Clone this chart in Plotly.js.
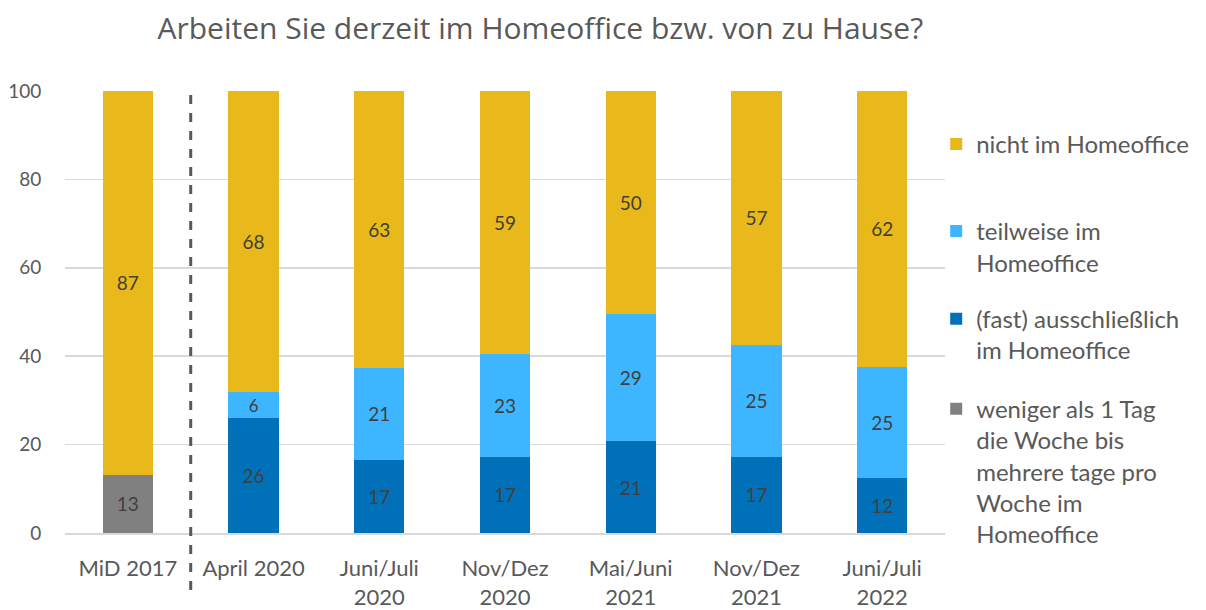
<!DOCTYPE html>
<html><head><meta charset="utf-8">
<script src="https://cdn.plot.ly/plotly-3.0.1.min.js"></script>
<style>body{margin:0;background:#fff}#c{width:1206px;height:610px}</style>
</head><body><div id="c"></div>
<script>
const categories = ["MiD 2017","April 2020","Juni/Juli<br>2020","Nov/Dez<br>2020","Mai/Juni<br>2021","Nov/Dez<br>2021","Juni/Juli<br>2022"];
const weniger = [13.2, null, null, null, null, null, null];
const fast = [null, 26, 16.6, 17.2, 20.8, 17.2, 12.4];
const teilweise = [null, 6, 20.8, 23.4, 28.8, 25.4, 25.2];
const nicht = [86.8, 68, 62.6, 59.4, 50.4, 57.4, 62.4];
const labelsWeniger = ["13","","","","","",""];
const labelsFast = ["","26","17","17","21","17","12"];
const labelsTeil = ["","6","21","23","29","25","25"];
const labelsNicht = ["87","68","63","59","50","57","62"];

const font = "Lato, 'Open Sans', sans-serif";
const txt = "#595959";
function tr(name, y, labels, color, leg){
  return {type:"bar", name:name, x:categories, y:y, text:labels, texttemplate:"%{text}",
    textposition:"inside", insidetextanchor:"middle", textangle:0,
    textfont:{family:font,size:19,color:"#404040"},
    marker:{color:color}, legend:leg, hoverinfo:"skip", cliponaxis:false};
}
const data = [
  tr("weniger als 1 Tag<br>die Woche bis<br>mehrere tage pro<br>Woche im<br>Homeoffice", weniger, labelsWeniger, "#808080", "legend4"),
  tr("(fast) ausschließlich<br>im Homeoffice", fast, labelsFast, "#0070B8", "legend3"),
  tr("teilweise im<br>Homeoffice", teilweise, labelsTeil, "#3DB5FF", "legend2"),
  tr("nicht im Homeoffice", nicht, labelsNicht, "#E9B81B", "legend")
];
function leg(y){
  return {x:0.99, xanchor:"left", y:y, yanchor:"top", valign:"top",
    font:{family:font,size:24,color:txt}, itemwidth:30, bgcolor:"rgba(0,0,0,0)"};
}
const layout = {
  width:1206, height:610, paper_bgcolor:"#fff", plot_bgcolor:"#fff",
  margin:{l:65, r:261, t:91, b:77},
  barmode:"stack", bargap:0.6,
  title:{text:"Arbeiten Sie derzeit im Homeoffice bzw. von zu Hause?", x:0.448, xanchor:"center", y:0.953, yanchor:"middle",
    font:{family:"'Open Sans', Lato, sans-serif", size:30, color:txt}},
  font:{family:font, color:txt},
  xaxis:{tickfont:{family:font,size:22,color:txt}, showline:true, linecolor:"#d9d9d9", linewidth:1.5,
    ticks:"outside", ticklen:15, tickcolor:"rgba(0,0,0,0)", fixedrange:true},
  yaxis:{range:[0,100], dtick:20, tickfont:{family:font,size:19,color:txt}, gridcolor:"#d9d9d9", gridwidth:1.5,
    zeroline:false, ticks:"outside", ticklen:19, tickcolor:"rgba(0,0,0,0)", fixedrange:true},
  showlegend:true,
  legend:leg(0.93), legend2:leg(0.733), legend3:leg(0.535), legend4:leg(0.331),
  shapes:[{type:"line", xref:"x", yref:"paper", x0:0.5, x1:0.5, y0:-0.129, y1:1, line:{color:"#595959", width:3, dash:"dash"}}]
};
Plotly.newPlot("c", data, layout, {displayModeBar:false, staticPlot:true});
</script></body></html>
